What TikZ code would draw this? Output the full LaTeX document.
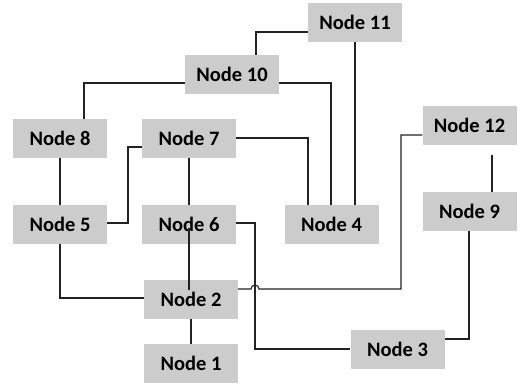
\documentclass[tikz,border=0pt]{standalone}
\usepackage{fontspec}
\setmainfont{Carlito}
\definecolor{boxgray}{HTML}{CCCCCC}
\definecolor{linegray}{HTML}{222222}
\begin{document}
\begin{tikzpicture}[x=1pt,y=-1pt,
  box/.style={fill=boxgray, minimum width=94pt, minimum height=39pt, inner sep=0pt,
    font=\bfseries\fontsize{20.5}{24}\selectfont},
  wire/.style={draw=linegray, line width=1.1pt}]
\useasboundingbox (0,0) rectangle (531,385);
\fill[white] (0,0) rectangle (531,385);
\node[box] (n11) at (355,22.5) {Node 11};
\node[box] (n10) at (232,74.5) {Node 10};
\node[box] (n8) at (60,138.5) {Node 8};
\node[box] (n7) at (189,138.5) {Node 7};
\node[box] (n12) at (469.5,125.5) {Node 12};
\node[box] (n5) at (60,224.5) {Node 5};
\node[box] (n6) at (189,224.5) {Node 6};
\node[box] (n4) at (331.5,224.5) {Node 4};
\node[box] (n9) at (469.5,211.5) {Node 9};
\node[box] (n2) at (191,299.5) {Node 2};
\node[box] (n1) at (191,363.5) {Node 1};
\node[box] (n3) at (397.5,349.5) {Node 3};
% connectors
\draw[wire] (n11.west |- 0,32) -| (n10.north -| 256,0);
\draw[wire] (n11.south) -- (n4.north -| n11.south);
\draw[wire] (n10.east |- 0,83) -| (n4.north -| 331,0);
\draw[wire] (n10.west |- 0,83) -| (n8.north -| 84,0);
\draw[wire] (n7.east |- 0,138) -| (n4.north -| 308,0);
\draw[wire] (n7.west |- 0,147) -| (128,223) -- (n5.east |- 0,223);
\draw[wire] (n7.south) -- (n6.north);
\draw[wire] (n6.center |- 0,228) -- (n6.center |- 0,290);
\draw[wire] (n8.south) -- (n5.north);
\draw[wire] (n5.south) |- (n2.west |- 0,298);
\draw[wire] (n6.east |- 0,223) -| (255,349) -- (n3.west |- 0,349);
\draw[wire] (n2.east |- 0,289) -- (251,289) arc[start angle=180,end angle=0,radius=4pt] -- (401,289) |- (n12.west |- 0,135);
\draw[wire, shorten <=10pt] (n12.south -| 492,0) -- (n9.north -| 492,0);
\draw[wire] (n9.south -| 469,0) |- (n3.east |- 0,339);
\draw[wire] (n2.south) -- (n1.north);
\end{tikzpicture}
\end{document}
